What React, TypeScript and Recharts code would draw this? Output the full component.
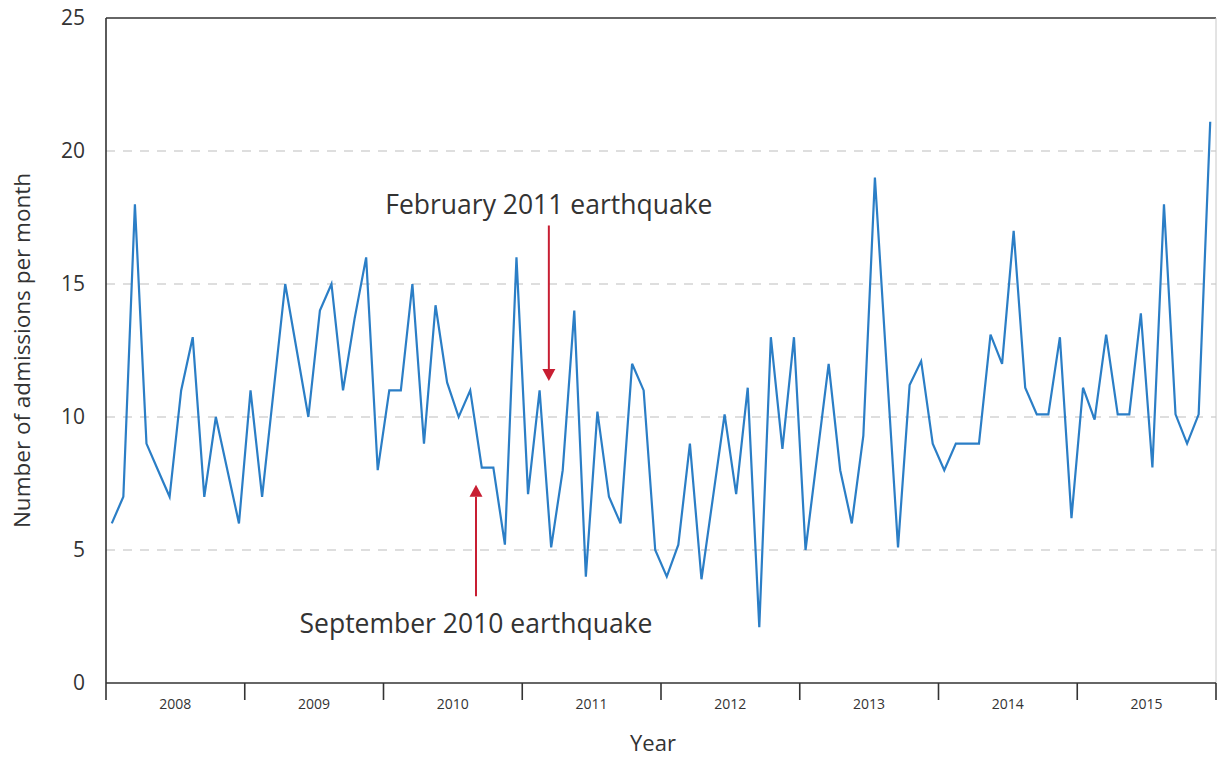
import { CartesianGrid, Line, LineChart, ReferenceLine, XAxis, YAxis } from 'recharts'

const years = ['2008', '2009', '2010', '2011', '2012', '2013', '2014', '2015']

// monthly admissions, Jan..Dec, one array per year
const admissions2008 = [6, 7, 18, 9, 8, 7, 11, 13, 7, 10, 8, 6]
const admissions2009 = [11, 7, 11, 15, 12.5, 10, 14, 15, 11, 13.7, 16, 8]
const admissions2010 = [11, 11, 15, 9, 14.2, 11.3, 10, 11, 8.1, 8.1, 5.2, 16]
const admissions2011 = [7.1, 11, 5.1, 8, 14, 4, 10.2, 7, 6, 12, 11, 5]
const admissions2012 = [4, 5.2, 9, 3.9, 7, 10.1, 7.1, 11.1, 2.1, 13, 8.8, 13]
const admissions2013 = [5, 8.5, 12, 8, 6, 9.3, 19, 12, 5.1, 11.2, 12.1, 9]
const admissions2014 = [8, 9, 9, 9, 13.1, 12, 17, 11.1, 10.1, 10.1, 13, 6.2]
const admissions2015 = [11.1, 9.9, 13.1, 10.1, 10.1, 13.9, 8.1, 18, 10.1, 9, 10.1, 21.1]

const yTicks = [0, 5, 10, 15, 20, 25]

// annotation arrows, in month units from Jan 2008 and admission units
const quakes = [
  { label: 'February 2011 earthquake', month: 38.3, from: 17.2, to: 11.35, above: true },
  { label: 'September 2010 earthquake', month: 32, from: 3.26, to: 7.45, above: false },
]

const FONT = '"Open Sans", sans-serif'
const INK = '#333333'
const BLUE = '#2b7ec6'
const RED = '#c81e32'

const allYears = [
  admissions2008,
  admissions2009,
  admissions2010,
  admissions2011,
  admissions2012,
  admissions2013,
  admissions2014,
  admissions2015,
]

const data = allYears.flatMap((vals, yi) =>
  vals.map((v, m) => ({ month: yi * 12 + m + 0.5, value: v })),
)

// boundaries every 12 months get a tick mark, mid-year positions get the label
const xTicks = Array.from({ length: 17 }, (_, i) => i * 6)

function YearTick(props: any) {
  const { x, y, payload } = props
  const v = payload.value as number
  if (v % 12 === 0) {
    return <line x1={x} x2={x} y1={y} y2={y + 17} stroke={INK} strokeWidth={1.6} />
  }
  return (
    <text x={x} y={y + 26} textAnchor="middle" fontSize={14} fontFamily={FONT} fill={INK}>
      {years[(v - 6) / 12]}
    </text>
  )
}

function makeArrow(label: string, above: boolean) {
  return function Arrow(props: any) {
    const { x1, y1, x2, y2 } = props
    const dir = y2 > y1 ? 1 : -1
    const head = 12
    const half = 6.5
    const textY = above ? y1 - 21 : y1 + 27
    return (
      <g>
        <line x1={x1} y1={y1} x2={x2} y2={y2 - dir * head} stroke={RED} strokeWidth={2} />
        <polygon
          points={`${x2 - half},${y2 - dir * head} ${x2 + half},${y2 - dir * head} ${x2},${y2}`}
          fill={RED}
        />
        <text
          x={x1}
          y={textY}
          textAnchor="middle"
          dominantBaseline="central"
          fontSize={26.5}
          fontFamily={FONT}
          fill={INK}
        >
          {label}
        </text>
      </g>
    )
  }
}

export default function App() {
  return (
    <div style={{ position: 'absolute', left: 0, top: 0, background: '#fff' }}>
      <LineChart
        width={1217}
        height={759}
        data={data}
        margin={{ top: 18, right: 1, left: 6, bottom: 46 }}
      >
        <CartesianGrid
          vertical={false}
          horizontalValues={[5, 10, 15, 20]}
          stroke="#bdbdbd"
          strokeDasharray="9 8"
        />
        <XAxis
          type="number"
          dataKey="month"
          domain={[0, 96]}
          ticks={xTicks}
          interval={0}
          tickSize={0}
          tickMargin={0}
          tickLine={false}
          tick={<YearTick />}
          height={30}
          axisLine={{ stroke: INK, strokeWidth: 1.6 }}
          label={{
            value: 'Year',
            position: 'bottom',
            offset: 22,
            dx: -8,
            fontSize: 22,
            fontFamily: FONT,
            fill: INK,
          }}
        />
        <YAxis
          type="number"
          domain={[0, 25]}
          ticks={yTicks}
          interval={0}
          width={100}
          tickSize={0}
          tickMargin={21}
          tickLine={false}
          axisLine={{ stroke: INK, strokeWidth: 1.6 }}
          tick={{ fontSize: 21, fontFamily: FONT, fill: INK }}
          label={{
            value: 'Number of admissions per month',
            angle: -90,
            position: 'center',
            dx: -34,
            fontSize: 22.5,
            fontFamily: FONT,
            fill: INK,
          }}
        />
        <ReferenceLine y={25} stroke={INK} strokeWidth={1.6} />
        <ReferenceLine x={96} stroke="#c8c8c8" strokeWidth={1} />
        {quakes.map((q) => (
          <ReferenceLine
            key={q.label}
            segment={[
              { x: q.month, y: q.from },
              { x: q.month, y: q.to },
            ]}
            shape={makeArrow(q.label, q.above)}
          />
        ))}
        <Line
          type="linear"
          dataKey="value"
          stroke={BLUE}
          strokeWidth={2.2}
          dot={false}
          isAnimationActive={false}
        />
      </LineChart>
    </div>
  )
}
